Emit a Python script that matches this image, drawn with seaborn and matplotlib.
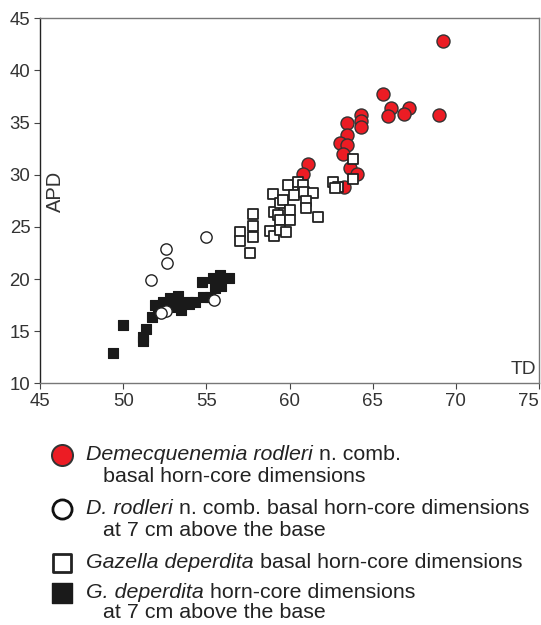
import matplotlib
matplotlib.use("Agg")
import matplotlib.pyplot as plt
import seaborn as sns
import pandas as pd

# ---- data (TD, APD) ----
red_td = [69.25, 65.6, 66.1, 67.2, 65.9, 66.9, 69.0, 64.3, 64.3, 64.3, 63.45, 63.45,
          63.05, 63.45, 63.2, 63.65, 64.05, 63.3, 61.1, 60.8]
red_apd = [42.8, 37.7, 36.4, 36.4, 35.6, 35.8, 35.7, 35.7, 35.15, 34.6, 35.0, 33.8,
           33.0, 32.85, 32.0, 30.6, 30.1, 28.8, 31.0, 30.05]

oc_td = [54.95, 52.6, 52.65, 51.65, 55.45, 52.6, 52.3]
oc_apd = [24.0, 22.9, 21.5, 19.95, 18.0, 16.95, 16.7]

os_td = [57.8, 57.8, 57.8, 57.0, 57.0, 57.6, 59.0, 59.05, 58.8, 59.05, 59.4, 59.6,
         60.0, 59.3, 59.4, 60.0, 59.4, 59.8, 59.9, 60.5, 60.8, 60.3, 60.9, 61.4,
         61.0, 61.0, 61.7, 62.6, 62.9, 62.75, 63.8, 63.8]
os_apd = [26.2, 25.1, 24.0, 24.5, 23.6, 22.5, 28.2, 26.45, 24.65, 24.15, 27.25, 27.55,
          26.6, 26.1, 25.7, 25.65, 24.7, 24.5, 29.0, 29.35, 29.0, 28.05, 28.35, 28.25,
          27.45, 26.8, 25.95, 29.35, 28.85, 28.75, 31.55, 29.6]

bs_td = [49.4, 50.0, 51.4, 51.2, 51.2, 51.75, 51.9, 52.4, 52.8, 53.3, 53.4, 52.9,
         53.9, 53.45, 54.75, 54.8, 55.2, 55.4, 55.8, 55.9, 55.5, 56.35, 53.95, 52.1, 54.3]
bs_apd = [12.95, 15.55, 15.2, 14.45, 14.05, 16.35, 17.5, 17.8, 18.15, 18.35, 17.5, 17.35,
          17.8, 17.0, 19.7, 18.3, 18.25, 20.1, 20.35, 19.35, 19.1, 20.05, 17.6, 17.0, 17.8]

x_ticks = [45, 50, 55, 60, 65, 70, 75]
y_ticks = [10, 15, 20, 25, 30, 35, 40, 45]

sns.set_style("white")
plt.rcParams["font.family"] = ["Liberation Sans", "DejaVu Sans"]

W, H = 541, 625
fig = plt.figure(figsize=(W / 100, H / 100), dpi=100)
L, R, T, B = 40, 539, 18.3, 383.3
ax = fig.add_axes([L / W, (H - B) / H, (R - L) / W, (B - T) / H])

red = "#ec1c24"
edge = "#333333"

df_red = pd.DataFrame({"TD": red_td, "APD": red_apd})
df_oc = pd.DataFrame({"TD": oc_td, "APD": oc_apd})
df_os = pd.DataFrame({"TD": os_td, "APD": os_apd})
df_bs = pd.DataFrame({"TD": bs_td, "APD": bs_apd})

sns.scatterplot(data=df_red, x="TD", y="APD", ax=ax, marker="o", s=88,
                color=red, edgecolor=edge, linewidth=1.0, zorder=3)
sns.scatterplot(data=df_os, x="TD", y="APD", ax=ax, marker="s", s=52,
                color="white", edgecolor="#222222", linewidth=1.3, zorder=4)
sns.scatterplot(data=df_bs, x="TD", y="APD", ax=ax, marker="s", s=55,
                color="#1a1a1a", edgecolor="#1a1a1a", linewidth=0.8, zorder=4)
sns.scatterplot(data=df_oc, x="TD", y="APD", ax=ax, marker="o", s=66,
                color="white", edgecolor="#222222", linewidth=1.0, zorder=5)

ax.set_xlim(45, 75)
ax.set_ylim(10, 45)
ax.set_xticks(x_ticks)
ax.set_yticks(y_ticks)
ax.set_xlabel("")
ax.set_ylabel("")
ax.tick_params(axis="both", direction="out", length=4, width=0.8, color="#444444",
               labelsize=13.4, labelcolor="#333333", pad=3, bottom=True, left=True)
# keep the last x tick label inside the figure (as in the reference)
ax.get_xticklabels()[-1].set_horizontalalignment("right")
for side in ["top", "right", "bottom"]:
    ax.spines[side].set_color("#777777")
    ax.spines[side].set_linewidth(1.0)
ax.spines["left"].set_color("#222222")
ax.spines["left"].set_linewidth(1.0)

ax.text(0.03, 0.525, "APD", transform=ax.transAxes, rotation=90, ha="center",
        va="center", fontsize=14.5, color="#333333")
ax.text(0.995, 0.015, "TD", transform=ax.transAxes, ha="right", va="bottom",
        fontsize=13.8, color="#333333")

# ---- legend drawn below the axes ----
lax = fig.add_axes([0, 0, 1, 1])
lax.set_xlim(0, W)
lax.set_ylim(H, 0)
lax.axis("off")

fs = 15.4
tc = "#222222"
kx = 62
tx = 86
ix = 103

lax.scatter([kx], [455], s=230, marker="o", color=red, edgecolor=edge, linewidth=1.4)
lax.scatter([kx], [509], s=190, marker="o", color="white", edgecolor="#111111", linewidth=2.0)
lax.scatter([kx], [563], s=170, marker="s", color="white", edgecolor="#222222", linewidth=2.0)
lax.scatter([kx], [593], s=190, marker="s", color="#1a1a1a", edgecolor="#1a1a1a", linewidth=1.0)


def mixed(x, y, parts):
    prev = None
    for txt, it in parts:
        kw = dict(fontsize=fs, color=tc, style="italic" if it else "normal")
        if prev is None:
            prev = lax.text(x, y, txt, ha="left", va="center", **kw)
        else:
            prev = lax.annotate(txt, xy=(1, 0), xycoords=prev, ha="left", va="bottom",
                                annotation_clip=False, **kw)


mixed(tx, 455, [("Demecquenemia rodleri", True), (" n. comb.", False)])
mixed(ix, 476, [("basal horn-core dimensions", False)])
mixed(tx, 509, [("D. rodleri", True), (" n. comb. basal horn-core dimensions", False)])
mixed(ix, 530, [("at 7 cm above the base", False)])
mixed(tx, 563, [("Gazella deperdita", True), (" basal horn-core dimensions", False)])
mixed(tx, 593, [("G. deperdita", True), (" horn-core dimensions", False)])
mixed(ix, 613, [("at 7 cm above the base", False)])

fig.savefig("out.png", dpi=100)
